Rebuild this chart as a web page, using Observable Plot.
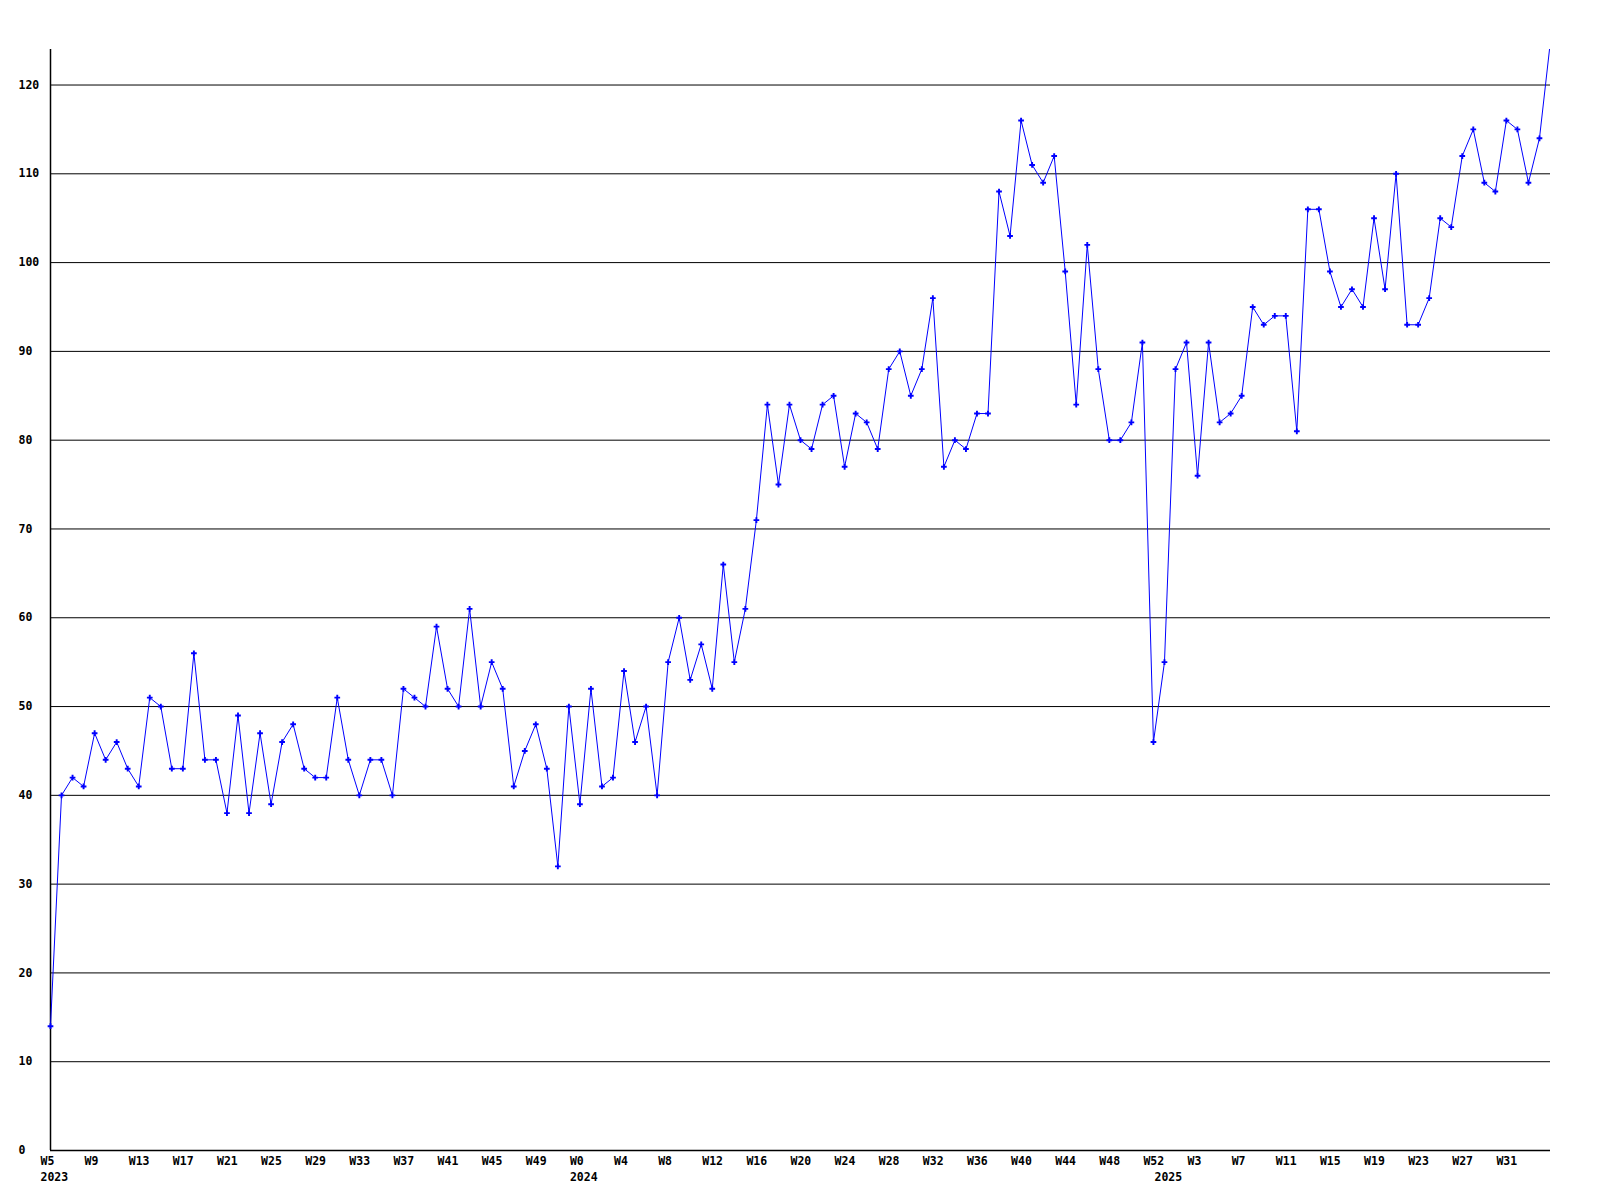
<!DOCTYPE html>
<html>
<head>
<meta charset="utf-8">
<script src="https://cdn.jsdelivr.net/npm/d3@7"></script>
<script src="https://cdn.jsdelivr.net/npm/@observablehq/plot@0.6"></script>
<style>
  html, body { margin: 0; padding: 0; background: #fff; }
  #chart svg { display: block; }
</style>
</head>
<body>
<div id="chart"></div>
<script>
// Weekly values, one array per year
const years = [2023, 2024, 2025];
const startWeek = [5, 0, 0];
const values2023 = [14, 40, 42, 41, 47, 44, 46, 43, 41, 51, 50, 43, 43, 56, 44, 44, 38, 49, 38, 47, 39, 46, 48,
  43, 42, 42, 51, 44, 40, 44, 44, 40, 52, 51, 50, 59, 52, 50, 61, 50, 55, 52, 41, 45, 48, 43, 32, 50];
const values2024 = [39, 52, 41, 42, 54, 46, 50, 40, 55, 60, 53, 57, 52, 66, 55, 61, 71, 84, 75, 84, 80, 79, 84, 85,
  77, 83, 82, 79, 88, 90, 85, 88, 96, 77, 80, 79, 83, 83, 108, 103, 116, 111, 109, 112, 99, 84, 102, 88, 80, 80, 82, 91, 46];
const values2025 = [55, 88, 91, 76, 91, 82, 83, 85, 95, 93, 94, 94, 81, 106, 106, 99, 95, 97, 95, 105, 97, 110, 93, 93,
  96, 105, 104, 112, 115, 109, 108, 116, 115, 109, 114, 125];
const yTicks = [0, 10, 20, 30, 40, 50, 60, 70, 80, 90, 100, 110, 120];
const yMax = 124;
const tickEvery = 4;

const seriesByYear = [values2023, values2024, values2025];
const rows = [];
seriesByYear.forEach((vals, k) => {
  vals.forEach((v, j) => {
    rows.push({i: rows.length, year: years[k], week: startWeek[k] + j, value: v, first: j === 0});
  });
});
const lastIndex = rows.length - 1;
const tickRows = rows.filter(d => d.i % tickEvery === 0 && d.i < lastIndex);
const yearRows = rows.filter(d => d.first);
const labelOf = new Map(rows.map(d => [d.i, "W" + d.week]));

const font = "'DejaVu Sans Mono', 'Liberation Mono', monospace";

const chart = Plot.plot({
  width: 1600,
  height: 1200,
  marginLeft: 50,
  marginRight: 50,
  marginTop: 49,
  marginBottom: 50,
  style: {fontFamily: font, fontSize: "11.5px", fontWeight: "bold", background: "#fff", color: "#000"},
  x: {domain: [0, lastIndex]},
  y: {domain: [0, yMax]},
  marks: [
    Plot.ruleY(yTicks.filter(t => t > 0), {stroke: "#000", strokeWidth: 1}),
    Plot.ruleY([0], {stroke: "#000", strokeWidth: 1.5}),
    Plot.ruleX([0], {y1: 0, y2: yMax, stroke: "#000", strokeWidth: 1.5}),
    Plot.axisY({ticks: yTicks, tickSize: 0, tickPadding: 0, textAnchor: "start", dx: -32, label: null, fill: "#000"}),
    Plot.axisX({ticks: tickRows.map(d => d.i), tickFormat: d => labelOf.get(d), tickSize: 0, tickPadding: 6,
      textAnchor: "start", dx: -10, label: null, fill: "#000"}),
    Plot.text(yearRows, {x: "i", y: () => 0, text: d => String(d.year), textAnchor: "start", dx: -10, dy: 27, fill: "#000"}),
    Plot.lineY(rows, {x: "i", y: "value", stroke: "#0000ff", strokeWidth: 1, clip: true}),
    Plot.dot(rows, {x: "i", y: "value", filter: d => d.value <= yMax, symbol: "cross", r: 2.4, fill: "#0000ff", stroke: "none"})
  ]
});
document.getElementById("chart").append(chart);
</script>
</body>
</html>
